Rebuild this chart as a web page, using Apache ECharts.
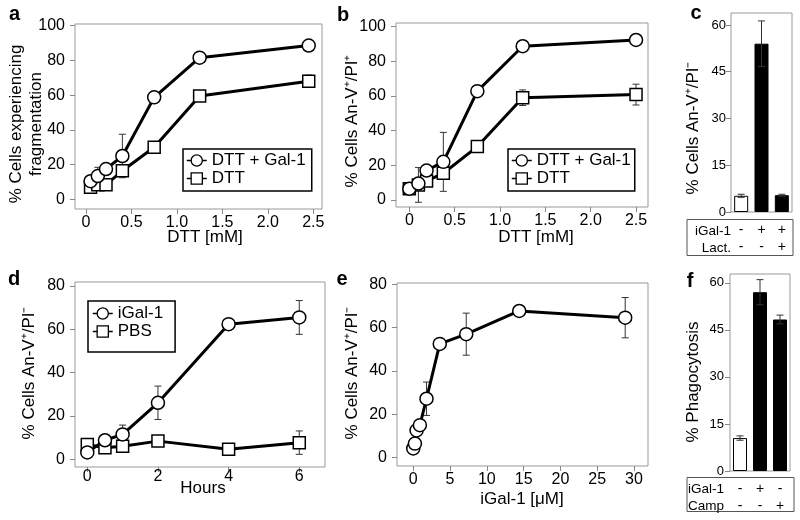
<!DOCTYPE html>
<html><head><meta charset="utf-8">
<script src="https://cdn.jsdelivr.net/npm/echarts@6/dist/echarts.min.js"></script>
<style>html,body{margin:0;padding:0;background:#fff}#c{width:800px;height:520px}</style>
</head><body><div id="c"></div>
<script>
const FONT = "'Liberation Sans', Arial, Helvetica, sans-serif";

// ---- Panel a: DTT dose, fragmentation ----
const aDTT = [0.05, 0.13, 0.22, 0.4, 0.75, 1.25, 2.45];
const aGal = [10.5, 13.5, 17.5, 25, 58.7, 81.5, 88.5];
const aGalErr = [0, 5, 0, 12.5, 0, 0, 0];
const aCtl = [7, 8.5, 8.5, 16.5, 30, 59.5, 68];
const aCtlErr = [0, 0, 0, 0, 0, 0, 3.5];
const aXTicks = [0, 0.5, 1, 1.5, 2, 2.5];
const aXLabels = ['0', '0.5', '1.0', '1.5', '2.0', '2.5'];
const aYTicks = [0, 20, 40, 60, 80, 100];
const aYLabels = ['0', '20', '40', '60', '80', '100'];

// ---- Panel b: DTT dose, An-V+/PI+ ----
const bDTT = [0, 0.1, 0.19, 0.375, 0.75, 1.25, 2.5];
const bGal = [6.5, 9.5, 17, 22, 62.8, 88.7, 92.3];
const bGalErr = [0, 0, 0, 17, 0, 0, 0];
const bCtl = [6.5, 8.7, 11, 15.4, 30.8, 59, 60.8];
const bCtlErr = [0, 10, 0, 0, 0, 4.5, 6];
const bXTicks = [0, 0.5, 1, 1.5, 2, 2.5];
const bXLabels = ['0', '0.5', '1.0', '1.5', '2.0', '2.5'];
const bYTicks = [0, 20, 40, 60, 80, 100];
const bYLabels = ['0', '20', '40', '60', '80', '100'];

// ---- Panel c: bars ----
const cIGal = ['-', '+', '+'];
const cLact = ['-', '-', '+'];
const cRowNames = ['iGal-1', 'Lact.'];
const cValues = [5.2, 54, 5.4];
const cErr = [0.5, 7.3, 0.3];
const cYTicks = [0, 15, 30, 45, 60];
const cYLabels = ['0', '15', '30', '45', '60'];

// ---- Panel d: time course ----
const dHours = [0, 0.5, 1, 2, 4, 6];
const dGal = [3.2, 8.8, 11.5, 26.1, 62.4, 65.5];
const dGalErr = [0, 0, 4.3, 7.7, 2.6, 7.8];
const dPBS = [6.8, 5.3, 6, 8.4, 4.6, 7.7];
const dPBSErr = [0, 0, 0, 0, 0, 5.4];
const dXTicks = [0, 2, 4, 6];
const dXLabels = ['0', '2', '4', '6'];
const dYTicks = [0, 20, 40, 60, 80];
const dYLabels = ['0', '20', '40', '60', '80'];

// ---- Panel e: iGal-1 dose ----
const eConc = [0, 0.225, 0.45, 0.9, 1.8, 3.6, 7.2, 14.4, 28.8];
const eVal = [4.3, 6.5, 12.6, 15, 27.2, 52.5, 57, 67.7, 64.6];
const eErr = [0, 0, 0, 0, 7.7, 0, 9.7, 0, 9.3];
const eXTicks = [0, 5, 10, 15, 20, 25, 30];
const eXLabels = ['0', '5', '10', '15', '20', '25', '30'];
const eYTicks = [0, 20, 40, 60, 80];
const eYLabels = ['0', '20', '40', '60', '80'];

// ---- Panel f: phagocytosis bars ----
const fIGal = ['-', '+', '-'];
const fCamp = ['-', '-', '+'];
const fRowNames = ['iGal-1', 'Camp'];
const fValues = [10.5, 57, 48.3];
const fErr = [0.7, 4, 1.4];
const fYTicks = [0, 15, 30, 45, 60];
const fYLabels = ['0', '15', '30', '45', '60'];

// ---------- helpers ----------
const pairs = (xs, ys) => xs.map((x, i) => [x, ys[i]]);
const errData = (xs, ys, es) => xs.map((x, i) => [x, ys[i], es[i]]).filter(d => d[2] > 0);

function vAxis(gi, min, max, ticks, labels, fs, margin) {
  return {
    type: 'value', gridIndex: gi, min: min, max: max,
    axisLine: { show: false, onZero: false },
    axisTick: { show: true, length: 5, customValues: ticks, lineStyle: { color: '#888', width: 1 } },
    axisLabel: {
      customValues: ticks, margin: margin, fontSize: fs, color: '#000', fontFamily: FONT,
      formatter: v => { const k = ticks.indexOf(v); return k >= 0 ? labels[k] : ''; }
    },
    splitLine: { show: false }
  };
}
function cAxis(gi, rows, margin) {
  return {
    type: 'category', gridIndex: gi, data: rows[0].map((s, i) => s + '\n' + rows[1][i]),
    axisLine: { show: false, onZero: false }, axisTick: { show: false },
    axisLabel: { interval: 0, margin: margin, fontSize: 14, lineHeight: 16.5, color: '#000', fontFamily: FONT }
  };
}
function errItem(params, api) {
  const x = api.value(0), y = api.value(1), e = api.value(2);
  const hi = api.coord([x, y + e]), lo = api.coord([x, y - e]);
  const w = 3.5, st = { stroke: '#333', lineWidth: 1 };
  return { type: 'group', children: [
    { type: 'line', shape: { x1: hi[0], y1: hi[1], x2: lo[0], y2: lo[1] }, style: st },
    { type: 'line', shape: { x1: hi[0] - w, y1: hi[1], x2: hi[0] + w, y2: hi[1] }, style: st },
    { type: 'line', shape: { x1: lo[0] - w, y1: lo[1], x2: lo[0] + w, y2: lo[1] }, style: st }
  ]};
}
function errSeries(gi, data, z) {
  return { type: 'custom', xAxisIndex: gi, yAxisIndex: gi, data: data, renderItem: errItem,
    encode: { x: 0, y: 1 }, z: z, silent: true, clip: false };
}
function lineSeries(gi, name, data, symbol, size) {
  return { type: 'line', name: name, xAxisIndex: gi, yAxisIndex: gi, data: data,
    symbol: symbol, symbolSize: size, showSymbol: true, z: 3, silent: true,
    lineStyle: { color: '#000', width: 3 },
    itemStyle: { color: '#fff', borderColor: '#000', borderWidth: 1.5 },
    emphasis: { disabled: true } };
}
function barSeries(gi, values) {
  return { type: 'bar', xAxisIndex: gi, yAxisIndex: gi, data: values, barWidth: 14, z: 2, silent: true,
    itemStyle: { color: p => (p.dataIndex === 0 ? '#fff' : '#000'), borderColor: '#000', borderWidth: 1 } };
}
function legendBox(names, left, top, padding) {
  return { data: names, orient: 'vertical', left: left, top: top, itemWidth: 20, itemHeight: 14,
    itemGap: 1, padding: padding, borderColor: '#000', borderWidth: 1.5, selectedMode: false,
    textStyle: { fontSize: 17, color: '#000', fontFamily: FONT },
    lineStyle: { width: 1.5 }, itemStyle: { borderWidth: 1.3 } };
}
function txt(x, y, text, fs, opt) {
  opt = opt || {};
  return { type: 'text', x: x, y: y, rotation: opt.rot || 0, silent: true,
    style: { text: text, x: 0, y: 0, fontSize: fs, fontFamily: FONT, fontWeight: opt.bold ? 'bold' : 'normal',
      fill: '#000', align: opt.align || 'center', verticalAlign: 'middle', lineHeight: opt.lh || fs } };
}
const R = Math.PI / 2;

const grids = [
  { left: 75, top: 24, width: 247, height: 185 },   // a
  { left: 396, top: 23, width: 252, height: 184 },  // b
  { left: 731, top: 13, width: 61, height: 199 },   // c
  { left: 75, top: 282, width: 250, height: 185 },  // d
  { left: 397, top: 283, width: 251, height: 183 }, // e
  { left: 730, top: 274, width: 60, height: 197 }   // f
].map(g => Object.assign(g, { show: true, borderColor: '#999', borderWidth: 1, outerBoundsMode: 'none' }));

const option = {
  animation: false,
  backgroundColor: '#fff',
  grid: grids,
  xAxis: [
    vAxis(0, -0.121, 2.596, aXTicks, aXLabels, 16, 6),
    vAxis(1, -0.147, 2.632, bXTicks, bXLabels, 16, 6),
    cAxis(2, [cIGal, cLact], 10),
    vAxis(3, -0.348, 6.728, dXTicks, dXLabels, 16, 2),
    vAxis(4, -2.21, 31.9, eXTicks, eXLabels, 16, 6),
    cAxis(5, [fIGal, fCamp], 10)
  ],
  yAxis: [
    vAxis(0, -5.46, 100.86, aYTicks, aYLabels, 16, 10),
    vAxis(1, -4.04, 102.1, bYTicks, bYLabels, 16, 10),
    vAxis(2, 0, 63.85, cYTicks, cYLabels, 13, 5),
    vAxis(3, -3.55, 81.86, dYTicks, dYLabels, 16, 10),
    vAxis(4, -3.83, 80.6, eYTicks, eYLabels, 16, 10),
    vAxis(5, 0, 62.8, fYTicks, fYLabels, 13, 6)
  ],
  legend: [
    legendBox(['DTT + Gal-1', 'DTT'], 183, 149, [3, 6, 4, 3]),
    legendBox(['DTT + Gal-1', 'DTT'], 508, 149, [3, 4, 4, 3]),
    legendBox(['iGal-1', 'PBS'], 88, 301, [4, 12, 12, 4])
  ],
  series: [
    errSeries(0, errData(aDTT, aGal, aGalErr), 1),
    errSeries(0, errData(aDTT, aCtl, aCtlErr), 1),
    lineSeries(0, 'DTT', pairs(aDTT, aCtl), 'rect', 12),
    lineSeries(0, 'DTT + Gal-1', pairs(aDTT, aGal), 'circle', 13),

    errSeries(1, errData(bDTT, bGal, bGalErr), 1),
    errSeries(1, errData(bDTT, bCtl, bCtlErr), 1),
    lineSeries(1, 'DTT', pairs(bDTT, bCtl), 'rect', 12),
    lineSeries(1, 'DTT + Gal-1', pairs(bDTT, bGal), 'circle', 13),

    barSeries(2, cValues),
    errSeries(2, cValues.map((v, i) => [i, v, cErr[i]]), 4),

    errSeries(3, errData(dHours, dGal, dGalErr), 1),
    errSeries(3, errData(dHours, dPBS, dPBSErr), 1),
    lineSeries(3, 'PBS', pairs(dHours, dPBS), 'rect', 12),
    lineSeries(3, 'iGal-1', pairs(dHours, dGal), 'circle', 13),

    errSeries(4, errData(eConc, eVal, eErr), 1),
    lineSeries(4, 'iGal-1 dose', pairs(eConc, eVal), 'circle', 13),

    barSeries(5, fValues),
    errSeries(5, fValues.map((v, i) => [i, v, fErr[i]]), 4)
  ],
  graphic: [
    txt(14.5, 14, 'a', 20, { bold: true }),
    txt(343, 15, 'b', 20, { bold: true }),
    txt(696, 13, 'c', 20, { bold: true }),
    txt(14, 279.5, 'd', 20, { bold: true }),
    txt(342, 279, 'e', 20, { bold: true }),
    txt(690, 281, 'f', 20, { bold: true }),
    txt(26.5, 124, '% Cells experiencing\nfragmentation', 17, { rot: R, lh: 19.5 }),
    txt(205, 237, 'DTT [mM]', 17),
    txt(352, 121, '% Cells An-V\u207A/PI\u207A', 17, { rot: R }),
    txt(536, 237, 'DTT [mM]', 17),
    txt(693, 128, '% Cells An-V\u207A/PI\u207B', 17, { rot: R }),
    txt(29, 373, '% Cells An-V\u207A/PI\u207B', 17, { rot: R }),
    txt(203, 488, 'Hours', 17),
    txt(352, 373, '% Cells An-V\u207A/PI\u207B', 17, { rot: R }),
    txt(522, 499, 'iGal-1 [\u03BCM]', 17),
    txt(693, 382, '% Phagocytosis', 17, { rot: R }),
    { type: 'rect', silent: true, shape: { x: 687, y: 219.5, width: 106, height: 36 },
      style: { fill: 'none', stroke: '#555', lineWidth: 1 } },
    txt(731, 231.5, cRowNames[0], 13.5, { align: 'right' }),
    txt(731, 248, cRowNames[1], 13.5, { align: 'right' }),
    { type: 'rect', silent: true, shape: { x: 687, y: 477.5, width: 107, height: 34 },
      style: { fill: 'none', stroke: '#555', lineWidth: 1 } },
    txt(688, 489.5, fRowNames[0], 13.5, { align: 'left' }),
    txt(688, 506, fRowNames[1], 13.5, { align: 'left' })
  ]
};
const chart = echarts.init(document.getElementById('c'), null, { renderer: 'canvas', width: 800, height: 520 });
chart.setOption(option);
</script></body></html>
